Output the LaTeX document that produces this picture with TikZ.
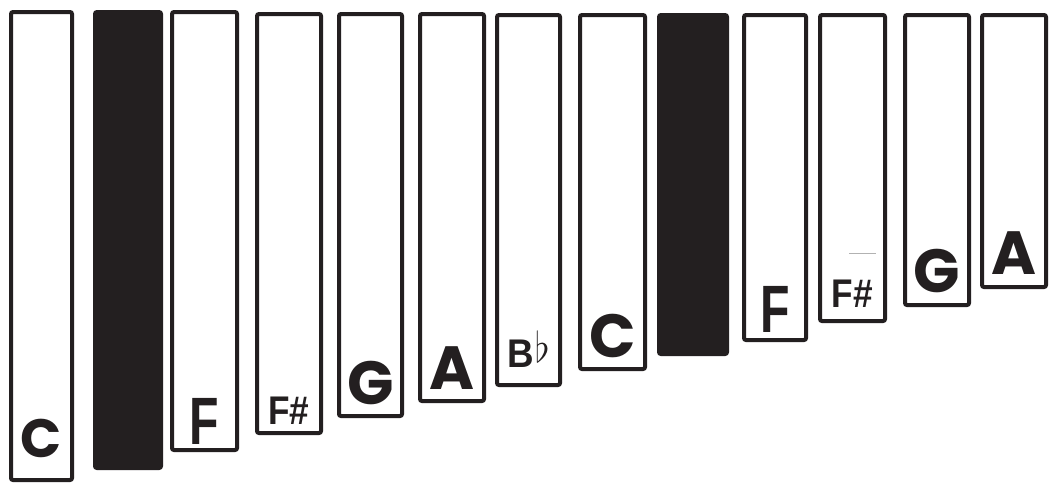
\documentclass[tikz,border=0pt]{standalone}
\usepackage{fontspec}
\usepackage{graphicx}
\newfontfamily\rndfont{Poppins}
\newfontfamily\cndfont{Liberation Sans}
\usetikzlibrary{positioning}
\definecolor{ink}{RGB}{35,31,32}
\tikzset{
  xylo/.style={x=1pt, y=-1pt},
  key/.style={draw=ink, line width=4pt, rounded corners=2pt, inner sep=0pt, fill=white},
  dark/.style={key, fill=ink},
  lbl/.style={anchor=base, inner sep=0pt, text=ink},
  rnd/.style={lbl, font=\rndfont\bfseries\fontsize{61}{61}\selectfont},
  rndsm/.style={lbl, font=\rndfont\bfseries\fontsize{54}{54}\selectfont},
  cnd/.style={lbl, font=\cndfont\bfseries\fontsize{67}{67}\selectfont, xscale=0.72},
  shp/.style={lbl, font=\cndfont\bfseries\fontsize{40}{40}\selectfont, xscale=0.88},
  flt/.style={lbl, font=\cndfont\bfseries\fontsize{40}{40}\selectfont, xscale=0.92}
}

\begin{document}
\begin{tikzpicture}[xylo]
    \fill[white] (0,0) rectangle (1050,483);
    \useasboundingbox (0,0) rectangle (1050,483);

    % bars: name / centre x / centre y / width / height / style
    \foreach \n/\cx/\cy/\w/\h/\s in {
        b1/41.5/246/61/468/key, b2/128/240/66/456/dark,
        b3/204.5/231/65/438/key, b4/289/223.5/64/419/key,
        b5/370.5/215/63/402/key, b6/452/207.5/64/387/key,
        b7/528.5/200/63/370/key, b8/612.5/192/65/354/key,
        b9/693/184.5/68/339/dark, b10/775/177.5/62/325/key,
        b11/852.5/168/65/306/key, b12/937/160/64/290/key,
        b13/1014/151/64/272/key} {
      \node[\s, minimum width=\w pt, minimum height=\h pt] (\n) at (\cx,\cy) {};
    }

    \node[rndsm] (l1) at ([yshift=25pt]b1.south) {C};
    \node[cnd] (l3) at ([yshift=8pt]b3.south) {F};
    \node[shp] (l4) at ([yshift=11pt]b4.south) {F\#};
    \node[rnd] (l5) at ([yshift=14pt]b5.south) {G};
    \node[rnd] (l6) at ([yshift=14pt]b6.south) {A};
    \node[flt] (l7) at ([yshift=20pt]b7.south) {B\kern1pt\raisebox{5pt}{\scalebox{1.7}{$\flat$}}};
    \node[rnd] (l8) at ([yshift=14pt]b8.south) {C};
    \node[cnd] (l10) at ([yshift=10pt]b10.south) {F};
    \node[shp] (l11) at ([yshift=16pt]b11.south) {F\#};
    \node[rnd] (l12) at ([yshift=15pt]b12.south) {G};
    \node[rnd] (l13) at ([yshift=15pt]b13.south) {A};

    \draw[black!30, line width=0.6pt] (849,253) -- (876,253);
\end{tikzpicture}
\end{document}
